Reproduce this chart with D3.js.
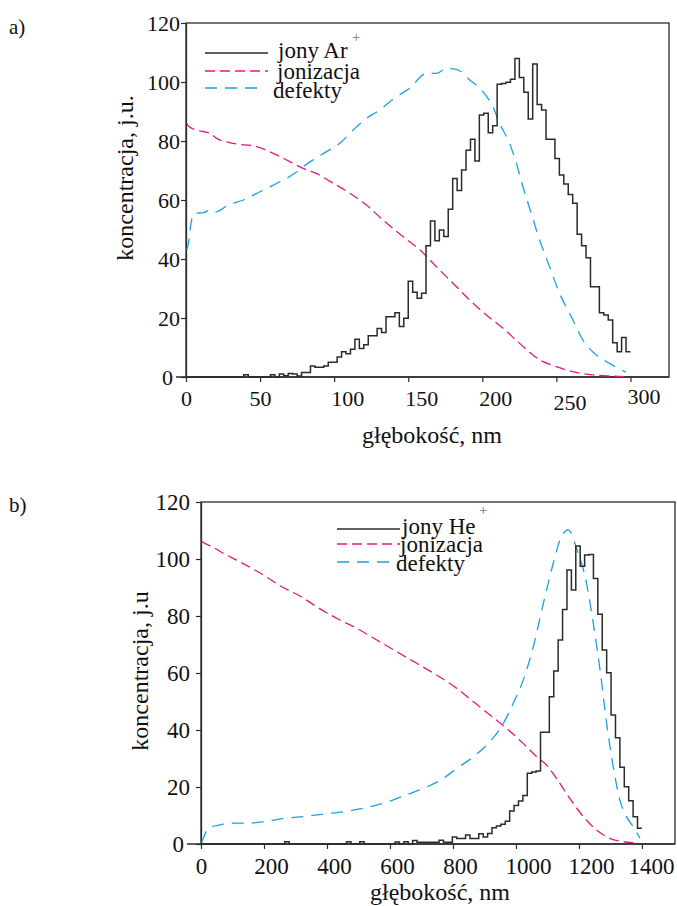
<!DOCTYPE html>
<html>
<head>
<meta charset="utf-8">
<script src="https://cdn.jsdelivr.net/npm/d3@7"></script>
<style>
  html, body { margin: 0; padding: 0; background: #fff; }
  svg { display: block; }
  svg text { font-family: "Liberation Serif", "Times New Roman", serif; }
</style>
</head>
<body>
<svg id="chart" width="677" height="906"></svg>
<script>
// ---- panel a): Ar+ implantation ----
const arBinWidth = 3; // nm per histogram bin
const arCounts = [
  0, 0, 0, 0, 0, 0, 0, 0, 0, 0, 0, 0, 0, 0.8, 0, 0, 0, 0, 0, 0.8,
  0, 1.0, 0.4, 1.2, 1.0, 0.3, 1.5, 1.5, 3.7, 3.3, 3.3, 3.7, 5.0, 5.0, 6.8, 8.6, 7.9, 9.4, 12.8, 9.7,
  10.9, 14.0, 14.0, 16.4, 15.1, 20.4, 20.4, 21.8, 17.1, 19.9, 32.5, 28.7, 26.7, 28.4, 44.5, 52.9, 46.2, 49.8, 47.6, 56.9,
  67.3, 63.2, 70.2, 76.9, 80.6, 73.2, 88.8, 89.4, 82.8, 85.2, 99.2, 99.5, 99.9, 100.9, 108.0, 101.5, 96.5, 87.5, 106.1, 92.4,
  90.5, 80.6, 80.6, 74.1, 68.5, 65.4, 61.9, 58.9, 48.4, 44.5, 40.4, 30.6, 30.6, 21.8, 21.0, 19.3, 11.6, 8.6, 13.4, 8.6
];
const arIonisation = [
  [0.5, 86], [1.6, 85.1], [7.2, 83.7], [16.2, 82.6], [20.7, 80.9], [31.9, 79.2], [47.6, 78.1], [58.9, 75.8],
  [70.1, 73.0], [79.1, 70.7], [88, 69.0], [97, 66.4], [110.6, 62.3], [121.8, 58.3], [133, 53.2], [146.5, 47.6],
  [157.8, 43.1], [169, 37.4], [180.2, 31.8], [191.5, 26.1], [202.7, 21.0], [214, 16.5], [225.2, 11.4],
  [238.7, 5.8], [250, 3.5], [261, 1.8], [274.6, 0.7], [288, 0.3], [297, 0.1]
];
const arDefects = [
  [0.5, 43], [1.6, 45.3], [3.8, 53.2], [6.1, 55.5], [11.7, 55.7], [17.3, 56.8], [20.2, 56.0], [28.5, 58.3],
  [38.7, 60.0], [49.9, 62.8], [61.1, 65.6], [72.4, 68.7], [79.1, 71.3], [85.8, 73.6], [94.8, 76.4],
  [103.8, 79.2], [112.8, 83.7], [121.8, 87.7], [130.8, 90.5], [139.8, 94.2], [151, 97.9], [162.2, 102.9],
  [169, 102.9], [175.7, 104.6], [182.5, 104.3], [191.5, 100.7], [200.4, 96.7], [207.2, 91.6], [211.7, 86.0],
  [218.4, 79.2], [223, 72.4], [227.4, 64.5], [233, 55.5], [238.7, 46.4], [245.4, 37.4], [252.1, 28.4],
  [260, 20.5], [267.9, 12.5], [275.7, 8.0], [285.8, 4.6], [297, 1.6]
];
const arTicksX = [0, 50, 100, 150, 200, 250, 300];

// ---- panel b): He+ implantation ----
const heBinWidth = 14; // nm per histogram bin
const heCounts = [
  0, 0, 0, 0, 0, 0, 0, 0, 0, 0, 0, 0, 0, 0, 0, 0, 0, 0, 0, 0.8,
  0, 0, 0, 0, 0, 0, 0, 0, 0, 0, 0, 0, 0, 0.8, 0, 0, 0.8, 0, 0, 0,
  0, 0, 0, 0, 0.7, 0, 0.8, 0, 1.2, 0.6, 0.6, 0.6, 0.6, 0.6, 1.3, 0.6, 0.6, 2.5, 1.9, 1.9,
  3.2, 1.9, 1.9, 3.6, 2.5, 3.7, 5.7, 6.3, 6.9, 8.0, 11.6, 13.5, 15.1, 17.0, 24.8, 25.3, 25.6, 39.2, 39.2, 51.7,
  60.7, 71.6, 82.3, 96.1, 89.1, 104.6, 97.5, 101.4, 101.6, 93.2, 80.6, 68.1, 60.1, 45.3, 37.3, 26.9, 20.1, 15.2, 9.6, 5.5
];
const heIonisation = [
  [2, 106.2], [7.4, 105.8], [39, 104.1], [71, 102], [113, 99.6], [155.6, 97.1], [198, 94.4], [251, 90.6],
  [314, 87], [378, 82.5], [441, 78.6], [494, 75.7], [558, 71.6], [621, 67.5], [685, 63.4], [748, 59.3],
  [812, 54.6], [865, 49.9], [917.5, 45.3], [970, 40.6], [1023, 35.3], [1066, 30.6], [1097, 27.7],
  [1129, 23.0], [1171, 16.0], [1214, 9.6], [1256, 4.9], [1298, 2.0], [1341, 0.8], [1372, 0.5]
];
const heDefects = [
  [2, 0.5], [7.4, 2.0], [23, 5.5], [60, 6.7], [103, 7.3], [145, 7.3], [198, 7.8], [261, 9.0], [325, 9.6],
  [388, 10.5], [452, 11.3], [515, 12.5], [579, 14.3], [642, 16.8], [706, 19.5], [769, 23.0], [812, 26.5],
  [865, 30.6], [917, 35.9], [960, 42.3], [991.5, 49.4], [1023, 57.5], [1055, 69.2], [1087, 84.4],
  [1118.5, 98.5], [1140, 106.7], [1166, 110.2], [1192.6, 103.7], [1224, 91.5], [1245.5, 77.4],
  [1267, 61.1], [1288, 42.3], [1309, 27.1], [1330, 15.4], [1351, 9.6], [1372, 6.1], [1394, 2.0]
];
const heTicksX = [0, 200, 400, 600, 800, 1000, 1200, 1400];

const ticksY = [0, 20, 40, 60, 80, 100, 120];
const legendNames = ["jonizacja", "defekty"];

// ---- styling ----
const SERIF = '"Liberation Serif", "Times New Roman", serif';
const INK = "#2b2b2b";
const PINK = "#e5187f";
const CYAN = "#1aa3dc";
const PINK_DASH = "10,5";
const CYAN_DASH = "12,8";

const svg = d3.select("#chart");

function drawPanel(cfg) {
  const g = svg.append("g");
  const x = d3.scaleLinear().domain(cfg.xDomain).range([cfg.left, cfg.right]);
  const y = d3.scaleLinear().domain([0, 120]).range([cfg.bottom, cfg.top]);

  // frame
  g.append("rect")
    .attr("x", cfg.left).attr("y", cfg.top)
    .attr("width", cfg.right - cfg.left).attr("height", cfg.bottom - cfg.top)
    .attr("fill", "none").attr("stroke", INK).attr("stroke-width", 1.3);

  // x axis
  const xAxis = g.append("g")
    .attr("transform", `translate(0,${cfg.bottom})`)
    .call(d3.axisBottom(x).tickValues(cfg.ticksX).tickFormat(d3.format("d")).tickSize(5).tickSizeOuter(0));
  xAxis.attr("font-family", SERIF);
  xAxis.select(".domain").attr("stroke", INK).attr("stroke-width", 1.3)
    .attr("d", `M${cfg.left - cfg.zeroExt},0H${cfg.right}`);
  xAxis.selectAll(".tick line").attr("stroke", INK).attr("stroke-width", 1.2);
  xAxis.selectAll(".tick text")
    .attr("fill", "#111")
    .style("font-family", SERIF)
    .style("font-size", cfg.tickFont + "px")
    .attr("dy", null)
    .attr("y", d => cfg.xLabelY + (cfg.xLabelDy[d] || 0))
    .attr("dx", d => (cfg.xLabelDx[String(d).length] || 0) + (cfg.xLabelNudge[d] || 0));

  // y axis
  const yAxis = g.append("g")
    .attr("transform", `translate(${cfg.left},0)`)
    .call(d3.axisLeft(y).tickValues(ticksY).tickSize(5).tickSizeOuter(0));
  yAxis.attr("font-family", SERIF);
  yAxis.select(".domain").attr("stroke", INK).attr("stroke-width", 1.3);
  yAxis.selectAll(".tick line").attr("stroke", INK).attr("stroke-width", 1.2);
  yAxis.selectAll(".tick text")
    .attr("fill", "#111")
    .style("font-family", SERIF)
    .style("font-size", cfg.tickFont + "px")
    .attr("x", d => d === 0 ? -cfg.zeroExt - 3 : -5 - cfg.yPad)
    .attr("dy", "0.34em");

  // axis titles
  g.append("text")
    .attr("x", cfg.xTitle[0]).attr("y", cfg.xTitle[1])
    .attr("text-anchor", "middle").attr("fill", "#111")
    .style("font-size", "24px")
    .text("głębokość, nm");
  g.append("text")
    .attr("transform", `translate(${cfg.yTitle[0]},${cfg.yTitle[1]}) rotate(-90)`)
    .attr("text-anchor", "middle").attr("fill", "#111")
    .style("font-size", "24px")
    .text(cfg.yTitleText);

  // panel letter
  g.append("text")
    .attr("x", 9).attr("y", cfg.letterY)
    .attr("fill", "#111").style("font-size", "21px")
    .text(cfg.letter);

  const plot = g.append("g");

  // ionisation and defect profiles
  const line = d3.line().x(d => x(d[0])).y(d => y(d[1])).curve(d3.curveMonotoneX);
  plot.append("path").datum(cfg.ion)
    .attr("d", line).attr("fill", "none")
    .attr("stroke", PINK).attr("stroke-width", 1.3).attr("stroke-dasharray", PINK_DASH);
  plot.append("path").datum(cfg.def)
    .attr("d", line).attr("fill", "none")
    .attr("stroke", CYAN).attr("stroke-width", 1.3).attr("stroke-dasharray", CYAN_DASH);

  // implanted-ion histogram as a step outline
  const steps = cfg.counts.map((v, i) => [i * cfg.binWidth, v]);
  steps.push([cfg.counts.length * cfg.binWidth, cfg.counts[cfg.counts.length - 1]]);
  const stepLine = d3.line().x(d => x(d[0])).y(d => y(d[1])).curve(d3.curveStepAfter);
  plot.append("path").datum(steps)
    .attr("d", stepLine).attr("fill", "none")
    .attr("stroke", INK).attr("stroke-width", 1.5).attr("stroke-linejoin", "miter");

  // legend
  const lg = g.append("g");
  const L = cfg.legend;
  lg.append("line").attr("x1", L.x1).attr("x2", L.x2).attr("y1", L.rows[0]).attr("y2", L.rows[0])
    .attr("stroke", INK).attr("stroke-width", 1.5);
  lg.append("line").attr("x1", L.x1).attr("x2", L.x2).attr("y1", L.rows[1]).attr("y2", L.rows[1])
    .attr("stroke", PINK).attr("stroke-width", 1.6).attr("stroke-dasharray", PINK_DASH);
  lg.append("line").attr("x1", L.x1).attr("x2", L.x2 - 6).attr("y1", L.rows[2]).attr("y2", L.rows[2])
    .attr("stroke", CYAN).attr("stroke-width", 1.6).attr("stroke-dasharray", CYAN_DASH);
  const names = [cfg.ionName].concat(legendNames);
  names.forEach((n, i) => {
    lg.append("text")
      .attr("x", L.tx[i]).attr("y", L.ty[i])
      .attr("fill", "#111").style("font-size", "23px")
      .text(n);
  });
  lg.append("text")
    .attr("x", L.plus[0]).attr("y", L.plus[1])
    .attr("fill", "#777").style("font-size", "15px")
    .text("+");
}

drawPanel({
  letter: "a)", letterY: 34,
  left: 186, right: 669, top: 23, bottom: 377,
  xDomain: [0, 326], ticksX: arTicksX,
  tickFont: 22, xLabelY: 29, xLabelDy: { 250: 4, 300: -2 }, xLabelDx: { 3: 13 }, xLabelNudge: {},
  yPad: 1, zeroExt: 10,
  xTitle: [432, 443], yTitle: [133, 178], yTitleText: "koncentracja, j.u.",
  counts: arCounts, binWidth: arBinWidth, ion: arIonisation, def: arDefects,
  ionName: "jony Ar",
  legend: { x1: 205, x2: 268, rows: [53, 71, 88], tx: [278, 277, 273], ty: [58, 79, 98], plus: [352, 42] }
});

drawPanel({
  letter: "b)", letterY: 512,
  left: 201, right: 675, top: 502, bottom: 844,
  xDomain: [0, 1505], ticksX: heTicksX,
  tickFont: 23, xLabelY: 30, xLabelDy: {}, xLabelDx: { 3: 7, 4: 12 }, xLabelNudge: { 1400: -3 },
  yPad: 6, zeroExt: 14,
  xTitle: [440, 900], yTitle: [148, 671], yTitleText: "koncentracja, j.u",
  counts: heCounts, binWidth: heBinWidth, ion: heIonisation, def: heDefects,
  ionName: "jony He",
  legend: { x1: 337, x2: 400, rows: [529, 544, 562], tx: [402, 400, 396], ty: [534, 552, 571], plus: [479, 515] }
});
</script>
</body>
</html>
